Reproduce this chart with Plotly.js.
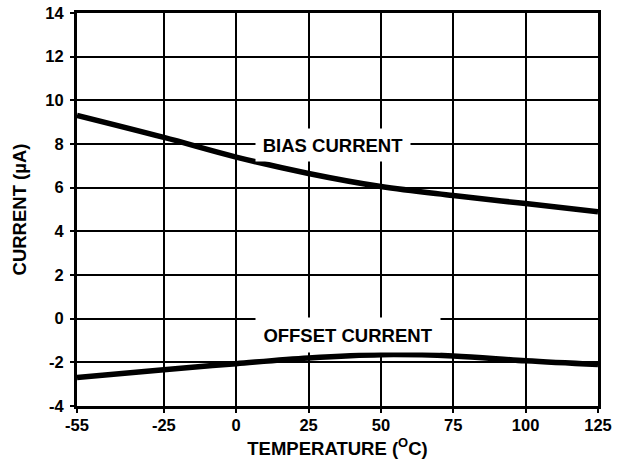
<!DOCTYPE html>
<html>
<head>
<meta charset="utf-8">
<script src="https://cdn.plot.ly/plotly-3.0.1.min.js"></script>
<style>html,body{margin:0;padding:0;background:#fff;}#chart{width:623px;height:461px;}</style>
</head>
<body>
<div id="chart"></div>
<script>
var temperature = [-55, -25, 0, 25, 50, 75, 100, 125];
var biasCurrent = [9.31, 8.3, 7.4, 6.65, 6.05, 5.64, 5.27, 4.9];
var offsetCurrent = [-2.7, -2.34, -2.06, -1.8, -1.65, -1.71, -1.93, -2.1];
var xTicks = [-55, -25, 0, 25, 50, 75, 100, 125];
var yTicks = [-4, -2, 0, 2, 4, 6, 8, 10, 12, 14];

var fontFam = "Liberation Sans, Arial, sans-serif";
var bold = function (s) { return '<b>' + s + '</b>'; };
var traces = [
  {x: temperature, y: biasCurrent, mode: 'lines', line: {color: '#000', width: 5.5, shape: 'spline'}, hoverinfo: 'none'},
  {x: temperature, y: offsetCurrent, mode: 'lines', line: {color: '#000', width: 5.5, shape: 'spline'}, hoverinfo: 'none'}
];
var layout = {
  width: 623, height: 461,
  margin: {l: 77, r: 25, t: 13, b: 55},
  paper_bgcolor: '#fff', plot_bgcolor: '#fff',
  showlegend: false,
  font: {family: fontFam, color: '#000'},
  xaxis: {
    range: [-55, 125], tickvals: xTicks, ticktext: xTicks.map(function (v) { return bold(v); }),
    showgrid: true, gridcolor: '#000', gridwidth: 2,
    zeroline: false, showline: true, linecolor: '#000', linewidth: 3, mirror: true,
    ticks: 'outside', ticklen: 4, tickwidth: 2, tickcolor: '#000',
    ticklabelstandoff: -2,
    tickfont: {family: fontFam, size: 16.5, color: '#000'},
    title: {text: bold('TEMPERATURE (<sup>O</sup>C)'), font: {family: fontFam, size: 18.5, color: '#000'}, standoff: 10}
  },
  yaxis: {
    range: [-4, 14], tickvals: yTicks, ticktext: yTicks.map(function (v) { return bold(v); }),
    showgrid: true, gridcolor: '#000', gridwidth: 2,
    zeroline: false, showline: true, linecolor: '#000', linewidth: 3, mirror: true,
    ticks: 'outside', ticklen: 4, tickwidth: 2, tickcolor: '#000',
    ticklabelstandoff: 3,
    tickfont: {family: fontFam, size: 16.5, color: '#000'},
    title: {text: bold('CURRENT (µA)'), font: {family: fontFam, size: 18.5, color: '#000'}, standoff: 14}
  },
  annotations: [
    {x: 33.4, y: 7.95, xref: 'x', yref: 'y', text: bold('BIAS CURRENT'), showarrow: false,
     font: {family: fontFam, size: 18.5, color: '#000'},
     bgcolor: '#fff', width: 152, height: 30},
    {x: 38.7, y: -0.77, xref: 'x', yref: 'y', text: bold('OFFSET CURRENT'), showarrow: false,
     font: {family: fontFam, size: 18.5, color: '#000'},
     bgcolor: '#fff', width: 182, height: 32}
  ]
};
Plotly.newPlot('chart', traces, layout, {staticPlot: true, displayModeBar: false});
</script>
</body>
</html>
